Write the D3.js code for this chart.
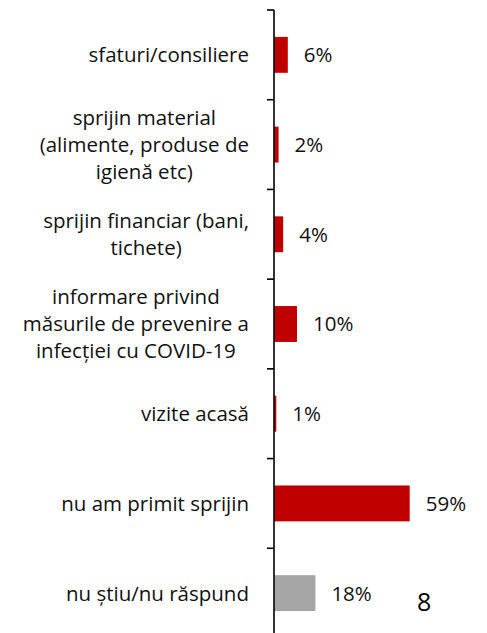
<!DOCTYPE html>
<html>
<head>
<meta charset="utf-8">
<script src="https://cdn.jsdelivr.net/npm/d3@7"></script>
<style>
    html, body { margin: 0; padding: 0; background: #fff; }
    svg { display: block; font-family: "Open Sans", Lato, sans-serif; }
</style>
</head>
<body>
<div id="chart"></div>
<script>
    /* -----------------------------
       1. Data
    ------------------------------*/
    const categories = [
        "sfaturi/consiliere",
        "sprijin material (alimente, produse de igienă etc)",
        "sprijin financiar (bani, tichete)",
        "informare privind măsurile de prevenire a infecției cu COVID-19",
        "vizite acasă",
        "nu am primit sprijin",
        "nu știu/nu răspund"
    ];
    // how the labels wrap in the original
    const labelLines = [
        ["sfaturi/consiliere"],
        ["sprijin material", "(alimente, produse de", "igienă etc)"],
        ["sprijin financiar (bani,", "tichete)"],
        ["informare privind", "măsurile de prevenire a", "infecției cu COVID-19"],
        ["vizite acasă"],
        ["nu am primit sprijin"],
        ["nu știu/nu răspund"]
    ];
    const values = [6, 2, 4, 10, 1, 59, 18];
    const barColors = ["#C00000", "#C00000", "#C00000", "#C00000", "#C00000", "#C00000", "#A5A5A5"];
    const pageNumber = "8";

    /* -----------------------------
       2. SVG + scales
    ------------------------------*/
    const width = 487, height = 633;
    const axisX = 274;
    const fontSize = 20.5;

    const svg = d3.select('#chart').append('svg')
        .attr('width', width)
        .attr('height', height);

    const y = d3.scaleBand()
        .domain(categories)
        .range([10, 638])
        .paddingInner(0.6)
        .paddingOuter(0.3);

    const x = d3.scaleLinear()
        .domain([0, 60])
        .range([axisX, axisX + 138]);

    /* -----------------------------
       3. Bars + value labels
    ------------------------------*/
    svg.append('g').selectAll('rect')
        .data(values)
        .join('rect')
        .attr('x', x(0))
        .attr('y', (d, i) => y(categories[i]))
        .attr('width', d => x(d) - x(0))
        .attr('height', y.bandwidth())
        .attr('fill', (d, i) => barColors[i]);

    svg.append('g').selectAll('text')
        .data(values)
        .join('text')
        .attr('x', d => x(d) + 16)
        .attr('y', (d, i) => y(categories[i]) + y.bandwidth() / 2)
        .attr('dy', '0.36em')
        .attr('font-size', fontSize)
        .attr('fill', '#111')
        .text(d => d + '%');

    /* -----------------------------
       4. Category axis (line + ticks between bands)
    ------------------------------*/
    const step = y.step();
    const tickY = d3.range(categories.length + 1).map(i => y.range()[0] + i * step);

    svg.append('line')
        .attr('x1', axisX).attr('x2', axisX)
        .attr('y1', tickY[0]).attr('y2', height)
        .attr('stroke', '#000')
        .attr('stroke-width', 1.6);

    svg.append('g').selectAll('line')
        .data(tickY)
        .join('line')
        .attr('x1', axisX - 7).attr('x2', axisX)
        .attr('y1', d => d).attr('y2', d => d)
        .attr('stroke', '#000')
        .attr('stroke-width', 1.6);

    /* -----------------------------
       5. Category labels: block right-aligned, lines centered
    ------------------------------*/
    const lineH = 27;
    const labelRight = axisX - 25;

    categories.forEach((c, i) => {
        const lines = labelLines[i];
        const cy = y(c) + y.bandwidth() / 2;
        const g = svg.append('g');
        const texts = g.selectAll('text')
            .data(lines)
            .join('text')
            .attr('y', (d, j) => cy + (j - (lines.length - 1) / 2) * lineH)
            .attr('dy', '0.36em')
            .attr('font-size', fontSize)
            .attr('fill', '#111')
            .attr('text-anchor', 'middle')
            .text(d => d);
        const blockW = d3.max(texts.nodes(), n => n.getComputedTextLength());
        texts.attr('x', labelRight - blockW / 2);
    });

    /* -----------------------------
       6. Page number
    ------------------------------*/
    svg.append('text')
        .attr('x', 417)
        .attr('y', 611)
        .attr('font-size', 25)
        .attr('fill', '#000')
        .text(pageNumber);
</script>
</body>
</html>
